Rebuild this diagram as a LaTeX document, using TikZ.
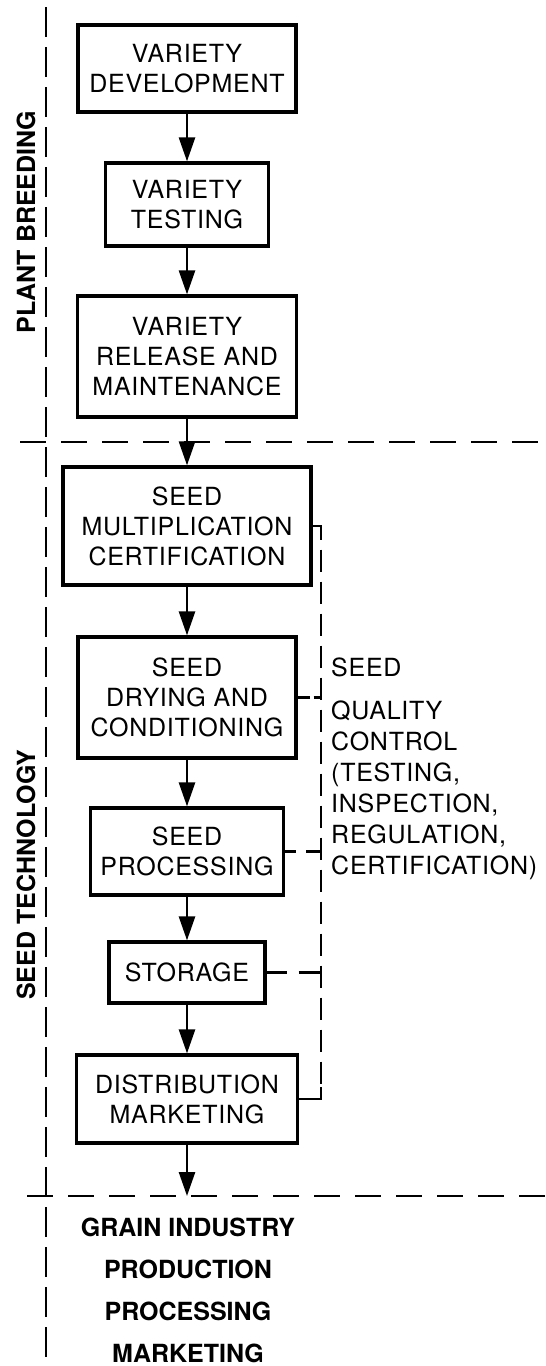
\documentclass[tikz,border=0pt]{standalone}
\usepackage{fontspec}
\setmainfont{TeX Gyre Heros}
\newfontfamily\boxfont[LetterSpace=3]{TeX Gyre Heros}
\usetikzlibrary{arrows.meta}

\tikzset{
  stage/.style={draw, line width=3.2pt, align=center, inner sep=0pt,
    font=\boxfont\fontsize{25}{30}\selectfont},
  flow/.style={line width=2.6pt, -{Triangle[length=24pt,width=16pt]}},
  divider/.style={line width=2.6pt, dash pattern=on 26pt off 15pt},
  sideline/.style={line width=2.6pt, dash pattern=on 30pt off 10pt},
  qcline/.style={line width=2.6pt, dash pattern=on 22pt off 10pt},
  tap/.style={line width=2.6pt, dash pattern=#1},
  sector/.style={font=\bfseries\fontsize{25}{30}\selectfont, rotate=90, inner sep=0pt},
}

\begin{document}
\begin{tikzpicture}[x=1pt,y=-1pt]
\useasboundingbox (0,0) rectangle (546,1366);
% dividers
\coordinate (topL) at (46,7);
\coordinate (botL) at (46,1366);
\coordinate (d1w) at (20,442);
\coordinate (d1e) at (546,442);
\coordinate (d2w) at (27,1196);
\coordinate (d2e) at (546,1196);
\coordinate (gi) at (187,1196);
\coordinate (qcx) at (321,0);
\draw[sideline] (topL) -- (botL);
\draw[divider] (d1w) -- (d1e);
\draw[divider] (d2w) -- (d2e);
\node[sector] (pb) at (26,222) {PLANT BREEDING};
\node[sector] (st) at (26,875) {SEED TECHNOLOGY};
% stages
\node[stage, minimum width=218pt, minimum height=87pt] (vdev) at (187,68.5) {VARIETY\\DEVELOPMENT};
\node[stage, minimum width=163pt, minimum height=83pt] (vtest) at (187,204.5) {VARIETY\\TESTING};
\node[stage, minimum width=219pt, minimum height=121pt] (vrel) at (187,356.5) {VARIETY\\RELEASE AND\\MAINTENANCE};
\node[stage, minimum width=248pt, minimum height=118pt] (smult) at (187,526) {SEED\\MULTIPLICATION\\CERTIFICATION};
\node[stage, minimum width=218pt, minimum height=121pt] (sdry) at (187,697.5) {SEED\\DRYING AND\\CONDITIONING};
\node[stage, minimum width=193pt, minimum height=87pt] (sproc) at (187,851.5) {SEED\\PROCESSING};
\node[stage, minimum width=156pt, minimum height=61pt] (stor) at (187,972.5) {STORAGE};
\node[stage, minimum width=221pt, minimum height=88pt] (dist) at (187,1099) {DISTRIBUTION\\MARKETING};
\draw[flow] (vdev) -- (vtest);
\draw[flow] (vtest) -- (vrel);
\draw[flow] (vrel) -- (smult);
\draw[flow] (smult) -- (sdry);
\draw[flow] (sdry) -- (sproc);
\draw[flow] (sproc) -- (stor);
\draw[flow] (stor) -- (dist);
\draw[flow] (dist) -- (gi);
% quality control
\draw[qcline] (smult.east) -- (smult.east -| qcx) -- (qcx |- dist.east);
\draw[line width=2.6pt] (dist.east) -- (dist.east -| qcx) -- ++(0,-12);
\draw[tap={on 12pt off 4pt}] (sdry.east) -- (sdry.east -| qcx);
\draw[tap={on 11pt off 10pt on 20pt off 10pt}] (sproc.east) -- (sproc.east -| qcx);
\draw[tap={on 20pt off 12pt on 25pt off 10pt}] (stor.east) -- (stor.east -| qcx);
\node[anchor=north west, align=left, inner sep=0pt, font=\boxfont\fontsize{25}{31}\selectfont] (qc) at (331,658)
  {SEED\\[12pt]QUALITY\\CONTROL\\(TESTING,\\INSPECTION,\\REGULATION,\\CERTIFICATION)};
\node[anchor=north, align=center, inner sep=0pt, font=\bfseries\fontsize{25}{42}\selectfont] (grain) at (188,1218)
  {GRAIN INDUSTRY\\PRODUCTION\\PROCESSING\\MARKETING};
\end{tikzpicture}
\end{document}
